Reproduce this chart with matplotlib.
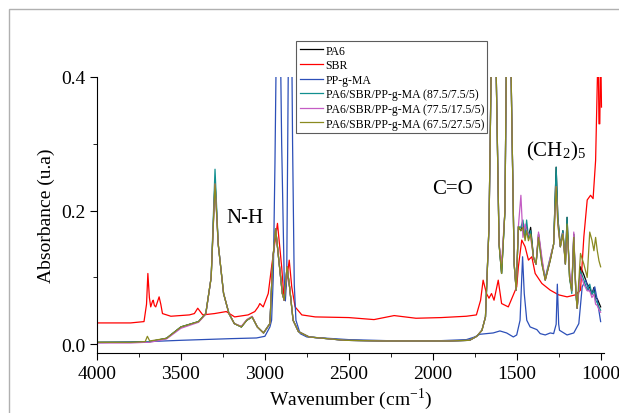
import matplotlib
matplotlib.use("Agg")
import matplotlib.pyplot as plt
from matplotlib.patches import Rectangle
from matplotlib.ticker import MultipleLocator

plt.rcParams['font.family'] = ['Liberation Serif', 'DejaVu Serif']
plt.rcParams['mathtext.fontset'] = 'stix'

# FTIR spectra, (wavenumber, absorbance) pairs read point by point
sbr_wn = [4000, 3800, 3720, 3705, 3697, 3688, 3680, 3670, 3665, 3658, 3650, 3630, 3620, 3610,
          3560, 3450, 3420, 3400, 3370, 3300, 3230, 3180, 3100, 3060, 3040, 3030, 3010, 2980,
          2960, 2925, 2900, 2885, 2855, 2840, 2820, 2780, 2700, 2500, 2350, 2230, 2100, 1950,
          1800, 1740, 1715, 1700, 1680, 1665, 1650, 1635, 1610, 1590, 1550, 1500, 1490, 1470,
          1450, 1430, 1410, 1390, 1350, 1300, 1250, 1200, 1150, 1120, 1100, 1080, 1060, 1045,
          1030, 1015, 1010, 1005, 1000, 995]
sbr_a = [0.032, 0.032, 0.034, 0.06, 0.106, 0.07, 0.056, 0.064, 0.066, 0.058, 0.056, 0.071, 0.06,
         0.046, 0.042, 0.044, 0.046, 0.054, 0.044, 0.046, 0.049, 0.041, 0.044, 0.049, 0.056,
         0.061, 0.056, 0.076, 0.116, 0.181, 0.116, 0.066, 0.126, 0.086, 0.056, 0.044, 0.041,
         0.040, 0.037, 0.043, 0.039, 0.040, 0.042, 0.044, 0.066, 0.096, 0.076, 0.069, 0.076,
         0.066, 0.096, 0.061, 0.056, 0.086, 0.116, 0.156, 0.146, 0.126, 0.131, 0.106, 0.091,
         0.081, 0.074, 0.071, 0.074, 0.081, 0.161, 0.216, 0.223, 0.218, 0.275, 0.45, 0.33,
         0.33, 0.45, 0.355]

ppgma_wn = [4000, 3700, 3500, 3200, 3050, 3000, 2970, 2960, 2950, 2940, 2925, 2915, 2900,
            2885, 2878, 2870, 2855, 2845, 2835, 2825, 2815, 2790, 2750, 2500, 2200, 2000, 1800,
            1750, 1720, 1680, 1640, 1600, 1560, 1520, 1500, 1480, 1465, 1455, 1440, 1420, 1380,
            1360, 1330, 1300, 1280, 1265, 1258, 1250, 1245, 1200, 1160, 1130, 1110, 1090, 1070,
            1050, 1035, 1020, 1000]
ppgma_a = [0.0025, 0.004, 0.006, 0.0085, 0.0095, 0.012, 0.026, 0.036, 0.1, 0.27, 0.6, 0.6,
           0.3, 0.1, 0.065, 0.1, 0.6, 0.6, 0.3, 0.09, 0.036, 0.016, 0.011, 0.007, 0.005, 0.005,
           0.007, 0.011, 0.015, 0.016, 0.017, 0.020, 0.017, 0.011, 0.014, 0.036, 0.131, 0.076,
           0.036, 0.026, 0.022, 0.016, 0.014, 0.017, 0.016, 0.03, 0.09, 0.03, 0.021, 0.014,
           0.017, 0.031, 0.086, 0.096, 0.081, 0.076, 0.086, 0.066, 0.034]

# PA6 and the three blends share the same band positions
blend_wn = [4000, 3800, 3713, 3700, 3686, 3586, 3500, 3395, 3352, 3320, 3297, 3278, 3246, 3214,
            3182, 3140, 3108, 3076, 3045, 3008, 2970, 2953, 2936, 2917, 2896, 2885, 2868, 2853,
            2832, 2800, 2737, 2524, 2300, 2100, 1900, 1781, 1738, 1707, 1686, 1665, 1650, 1640,
            1625, 1605, 1590, 1570, 1555, 1545, 1530, 1515, 1503, 1490, 1475, 1463, 1450, 1441,
            1430, 1417, 1400, 1385, 1370, 1350, 1330, 1300, 1280, 1265, 1255, 1240, 1225, 1210,
            1200, 1185, 1172, 1160, 1148, 1140, 1120, 1100, 1080, 1065, 1052, 1040, 1030, 1020,
            1010, 1000]
pa6_a = [0.003, 0.003, 0.004, 0.004, 0.004, 0.009, 0.026, 0.034, 0.046, 0.10, 0.245, 0.15,
         0.076, 0.046, 0.031, 0.026, 0.036, 0.041, 0.026, 0.017, 0.031, 0.126, 0.173, 0.126,
         0.076, 0.066, 0.116, 0.086, 0.036, 0.019, 0.011, 0.006, 0.005, 0.005, 0.005, 0.006,
         0.012, 0.021, 0.041, 0.176, 0.45, 0.6, 0.45, 0.15, 0.106, 0.2, 0.6, 0.6, 0.35, 0.12,
         0.081, 0.176, 0.17, 0.18, 0.16, 0.175, 0.16, 0.175, 0.13, 0.12, 0.165, 0.125, 0.096,
         0.126, 0.15, 0.265, 0.19, 0.146, 0.17, 0.12, 0.19, 0.1, 0.081, 0.165, 0.08, 0.054,
         0.116, 0.104, 0.09, 0.085, 0.075, 0.085, 0.07, 0.068, 0.062, 0.056]
blend1_a = [0.003, 0.003, 0.004, 0.004, 0.004, 0.009, 0.026, 0.034, 0.046, 0.10, 0.262, 0.15,
            0.076, 0.046, 0.031, 0.026, 0.036, 0.041, 0.026, 0.017, 0.031, 0.126, 0.173, 0.126,
            0.076, 0.066, 0.116, 0.086, 0.036, 0.019, 0.011, 0.006, 0.005, 0.005, 0.005, 0.006,
            0.012, 0.021, 0.041, 0.176, 0.45, 0.6, 0.45, 0.15, 0.106, 0.2, 0.6, 0.6, 0.35, 0.12,
            0.081, 0.176, 0.175, 0.186, 0.16, 0.186, 0.16, 0.17, 0.13, 0.12, 0.16, 0.12, 0.10,
            0.13, 0.15, 0.265, 0.19, 0.146, 0.17, 0.12, 0.19, 0.1, 0.076, 0.16, 0.08, 0.054,
            0.11, 0.096, 0.081, 0.09, 0.075, 0.08, 0.066, 0.062, 0.056, 0.051]
blend2_a = [0.002, 0.002, 0.003, 0.003, 0.003, 0.008, 0.024, 0.033, 0.045, 0.10, 0.24, 0.15,
            0.076, 0.046, 0.031, 0.027, 0.037, 0.042, 0.026, 0.017, 0.031, 0.126, 0.173, 0.126,
            0.076, 0.066, 0.116, 0.086, 0.036, 0.019, 0.011, 0.006, 0.005, 0.005, 0.005, 0.006,
            0.012, 0.021, 0.041, 0.176, 0.45, 0.6, 0.45, 0.15, 0.12, 0.2, 0.6, 0.6, 0.35, 0.12,
            0.081, 0.176, 0.223, 0.16, 0.18, 0.17, 0.165, 0.16, 0.13, 0.12, 0.168, 0.13, 0.096,
            0.13, 0.15, 0.236, 0.18, 0.146, 0.166, 0.12, 0.17, 0.11, 0.08, 0.168, 0.08, 0.054,
            0.105, 0.09, 0.08, 0.08, 0.07, 0.075, 0.06, 0.058, 0.052, 0.048]
blend3_a = [0.003, 0.003, 0.004, 0.012, 0.005, 0.009, 0.026, 0.034, 0.046, 0.10, 0.24, 0.15,
            0.076, 0.046, 0.031, 0.026, 0.036, 0.041, 0.026, 0.017, 0.031, 0.126, 0.173, 0.126,
            0.076, 0.066, 0.116, 0.086, 0.036, 0.019, 0.011, 0.006, 0.005, 0.005, 0.005, 0.006,
            0.012, 0.021, 0.041, 0.176, 0.45, 0.6, 0.45, 0.15, 0.106, 0.2, 0.6, 0.6, 0.35, 0.12,
            0.081, 0.176, 0.17, 0.175, 0.155, 0.17, 0.155, 0.165, 0.13, 0.12, 0.16, 0.12, 0.096,
            0.126, 0.15, 0.236, 0.18, 0.146, 0.165, 0.12, 0.18, 0.1, 0.08, 0.16, 0.08, 0.054,
            0.136, 0.12, 0.1, 0.168, 0.156, 0.14, 0.16, 0.14, 0.125, 0.116]

labels = ['PA6', 'SBR', 'PP-g-MA', 'PA6/SBR/PP-g-MA (87.5/7.5/5)',
          'PA6/SBR/PP-g-MA (77.5/17.5/5)', 'PA6/SBR/PP-g-MA (67.5/27.5/5)']
colors = ['black', '#ff0000', '#2c4fb8', '#118f8f', '#c45cc4', '#8a8a20']

fig = plt.figure(figsize=(6.19, 4.14), dpi=100)
ax = fig.add_axes([97 / 619, 1 - 354 / 414, 507 / 619, 276 / 414])

# light frame around the figure
fig.patches.append(Rectangle((9 / 619, -0.1), 1.2, 1 - 10 / 414 + 0.1,
                             transform=fig.transFigure, fill=False,
                             edgecolor='#b0b0b0', linewidth=1.0))

series = [(blend_wn, pa6_a), (sbr_wn, sbr_a), (ppgma_wn, ppgma_a),
          (blend_wn, blend1_a), (blend_wn, blend2_a), (blend_wn, blend3_a)]
for (wn, a), lab, c in zip(series, labels, colors):
    ax.plot(wn, a, color=c, lw=0.9, label=lab)

ax.set_xlim(4000, 980)
ax.set_ylim(-0.013, 0.4)
ax.set_xticks([4000, 3500, 3000, 2500, 2000, 1500, 1000])
ax.xaxis.set_minor_locator(MultipleLocator(250))
ax.set_yticks([0.0, 0.2, 0.4])
ax.yaxis.set_minor_locator(MultipleLocator(0.1))
ax.tick_params(which='both', direction='out', labelsize=14)
ax.tick_params(which='major', length=5)
ax.tick_params(which='minor', length=3)
for s in ['top', 'right']:
    ax.spines[s].set_visible(False)

ax.set_xlabel('Wavenumber (cm$^{\\mathregular{-1}}$)', fontsize=14, labelpad=3)
ax.set_ylabel('Absorbance (u.a)', fontsize=14)

ax.text(3120, 0.19, 'N-H', fontsize=15, ha='center', va='center')
ax.text(1885, 0.233, 'C=O', fontsize=15, ha='center', va='center')
ax.text(1262, 0.29, '(CH$_{\\mathregular{2}}$)$_{\\mathregular{5}}$', fontsize=15,
        ha='center', va='center')

leg = ax.legend(loc='upper left', bbox_to_anchor=(296 / 619, 1 - 42 / 414),
                bbox_transform=fig.transFigure, fontsize=8.5, frameon=True,
                fancybox=False, handlelength=2.0, handletextpad=0.2,
                labelspacing=0.22, borderpad=0.3, borderaxespad=0)
leg.get_frame().set_edgecolor('#333333')
leg.get_frame().set_linewidth(0.8)

fig.savefig('out.png', dpi=100)
